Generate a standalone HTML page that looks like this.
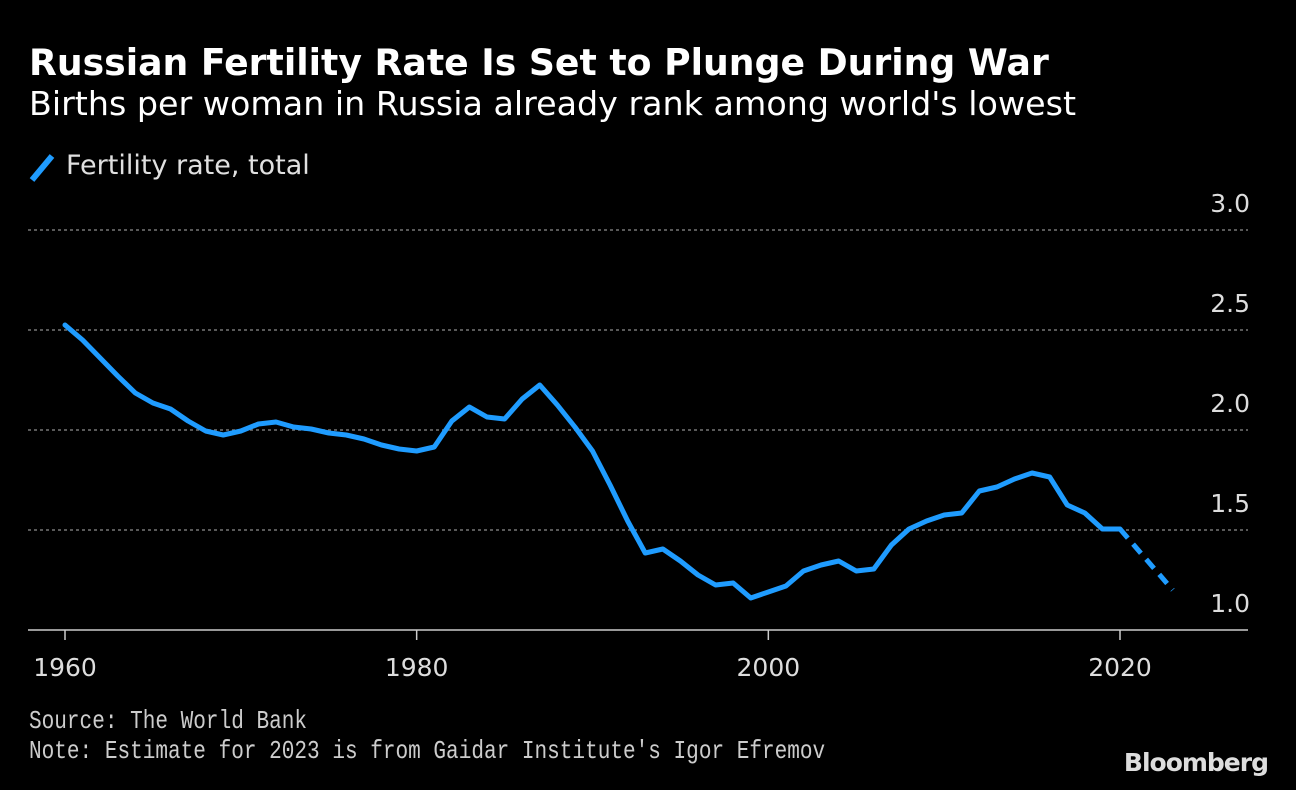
<!DOCTYPE html>
<html><head><meta charset="utf-8"><style>
body{margin:0;background:#000;width:1296px;height:790px;overflow:hidden;font-family:"DejaVu Sans","Liberation Sans",sans-serif;color:#e6e6e6}
.t{position:absolute;left:29px;top:41px;font-size:36.2px;font-weight:bold;color:#fff;white-space:nowrap}
.s{position:absolute;left:29px;top:84px;font-size:33.3px;color:#fff;white-space:nowrap}
.l{position:absolute;left:66px;top:150px;font-size:27px;color:#e0e0e0}
.f{position:absolute;left:29px;font-size:26px;color:#ccc;font-family:"Liberation Mono",monospace;transform:scaleX(0.81);transform-origin:0 0;white-space:nowrap}
.b{position:absolute;right:28px;top:748px;font-size:25px;font-weight:bold;color:#ddd;letter-spacing:-1px}
</style></head><body>
<div class="t">Russian Fertility Rate Is Set to Plunge During War</div>
<div class="s">Births per woman in Russia already rank among world's lowest</div>
<svg style="position:absolute;left:26px;top:150px" width="34" height="36"><line x1="6" y1="30" x2="26" y2="6" stroke="#1f9cff" stroke-width="6"/></svg>
<div class="l">Fertility rate, total</div>
<svg id="c" width="1296" height="790" style="position:absolute;left:0;top:0"></svg>
<div class="f" style="top:706px">Source: The World Bank</div>
<div class="f" style="top:736px">Note: Estimate for 2023 is from Gaidar Institute's Igor Efremov</div>
<div class="b">Bloomberg</div>
<script>
const years=[1960,1961,1962,1963,1964,1965,1966,1967,1968,1969,1970,1971,1972,1973,1974,1975,1976,1977,1978,1979,1980,1981,1982,1983,1984,1985,1986,1987,1988,1989,1990,1991,1992,1993,1994,1995,1996,1997,1998,1999,2000,2001,2002,2003,2004,2005,2006,2007,2008,2009,2010,2011,2012,2013,2014,2015,2016,2017,2018,2019,2020];
const rates=[2.525,2.45,2.36,2.27,2.185,2.135,2.105,2.045,1.995,1.975,1.995,2.03,2.04,2.015,2.005,1.985,1.975,1.955,1.925,1.905,1.895,1.915,2.045,2.115,2.065,2.055,2.155,2.225,2.125,2.015,1.895,1.725,1.545,1.385,1.405,1.345,1.275,1.225,1.235,1.16,1.19,1.22,1.295,1.325,1.345,1.295,1.305,1.425,1.505,1.545,1.575,1.585,1.695,1.715,1.755,1.785,1.765,1.625,1.585,1.505,1.505];
const estYears=[2020,2023];
const estRates=[1.505,1.2];
const yTicks=[1.0,1.5,2.0,2.5,3.0];
const xTicks=[1960,1980,2000,2020];
const NS='http://www.w3.org/2000/svg',svg=document.getElementById('c');
const X=v=>65+(v-1960)*(1120-65)/60;
const Y=v=>630-(v-1)*200;
function mk(t,a){const e=document.createElementNS(NS,t);for(const k in a)e.setAttribute(k,a[k]);svg.appendChild(e);return e;}
yTicks.forEach(t=>{
 if(t>1){const g=mk('line',{x1:28,x2:1248,y1:Y(t),y2:Y(t),stroke:'#777','stroke-width':1.5,'stroke-dasharray':'3,3'});
 
 }
 const tx=mk('text',{x:1250,y:Y(t)-18,'text-anchor':'end','font-size':25,fill:'#ddd','font-family':'DejaVu Sans, Liberation Sans, sans-serif'});
 tx.textContent=t.toFixed(1);
 
 
});
const ax=mk('line',{x1:28,x2:1248,y1:630,y2:630,stroke:'#ccc','stroke-width':1.5});


xTicks.forEach(t=>{
 const tk=mk('line',{x1:X(t),x2:X(t),y1:630,y2:640,stroke:'#ccc','stroke-width':1.5});
 
 
 const tx=mk('text',{x:X(t),y:676,'text-anchor':'middle','font-size':25,fill:'#ddd','font-family':'DejaVu Sans, Liberation Sans, sans-serif'});
 tx.textContent=t;
 
 
});
const p=mk('polyline',{points:years.map((y,i)=>X(y)+','+Y(rates[i])).join(' '),fill:'none',stroke:'#1f9cff','stroke-width':5,'stroke-linejoin':'round','stroke-linecap':'round'});


const d=mk('polyline',{points:estYears.map((y,i)=>X(y)+','+Y(estRates[i])).join(' '),fill:'none',stroke:'#1f9cff','stroke-width':5,'stroke-dasharray':'12,8'});


</script>
</body></html>
